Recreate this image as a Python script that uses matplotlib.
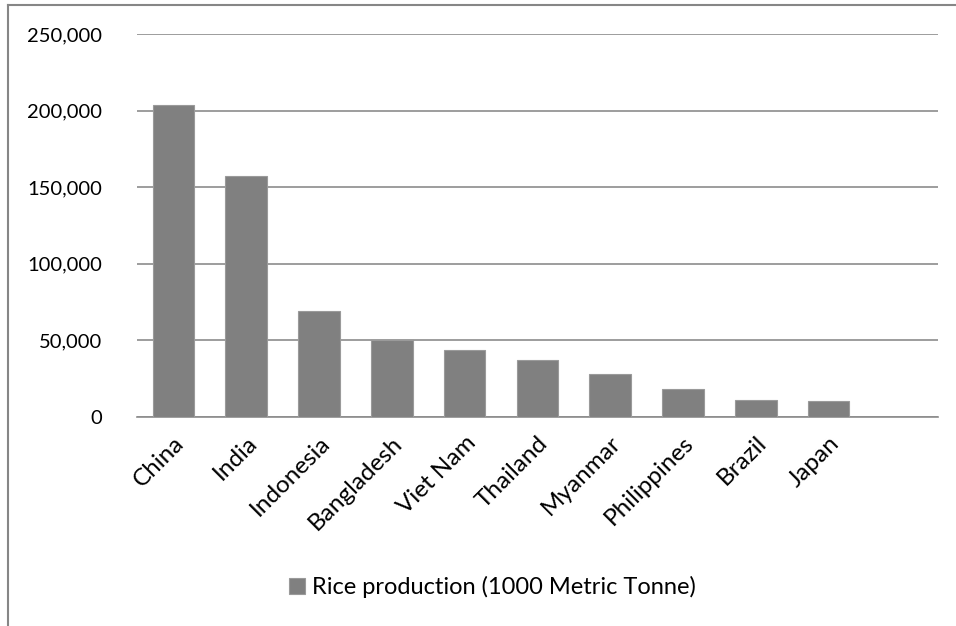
import matplotlib.pyplot as plt
from matplotlib.lines import Line2D
from matplotlib.ticker import FuncFormatter

countries = ["China", "India", "Indonesia", "Bangladesh", "Viet Nam",
             "Thailand", "Myanmar", "Philippines", "Brazil", "Japan", ""]
production = [203600, 157300, 69000, 50300, 43700,
              37300, 28100, 18000, 11200, 10300, None]
series_name = "Rice production (1000 Metric Tonne)"
yticks = [0, 50000, 100000, 150000, 200000, 250000]

plt.rcParams['font.family'] = ['Lato', 'DejaVu Sans']

fig = plt.figure(figsize=(9.56, 6.26), dpi=100)
ax = fig.add_axes([0.1433, 0.3339, 0.8377, 0.6118])

xs = list(range(len(countries)))
vals = [v if v is not None else 0 for v in production]
ax.bar(xs, vals, width=0.57, color="#808080", edgecolor="#9a9a9a",
       linewidth=0.8, zorder=3, label=series_name)

ax.set_xlim(-0.5, len(countries) - 0.5)
ax.set_ylim(0, 250000)
ax.set_yticks(yticks)
ax.yaxis.set_major_formatter(FuncFormatter(lambda v, p: f"{int(v):,}"))
ax.grid(axis="y", color="#8c8c8c", linewidth=1.2, zorder=0)

ax.set_xticks(xs)
ax.set_xticklabels(countries, rotation=45, ha="right", rotation_mode="anchor")
ax.tick_params(axis="x", length=0, pad=11, labelsize=17.5)
ax.tick_params(axis="y", length=0, pad=25, labelsize=14.5)

for side in ["left", "right", "top"]:
    ax.spines[side].set_visible(False)
ax.spines["bottom"].set_color("#8c8c8c")
ax.spines["bottom"].set_linewidth(1.2)

# chart area border (left and top edges)
fig.add_artist(Line2D([8 / 956, 8 / 956], [0, 1 - 5 / 626],
                      transform=fig.transFigure, color="#868686", lw=1.5))
fig.add_artist(Line2D([8 / 956, 1], [1 - 5 / 626, 1 - 5 / 626],
                      transform=fig.transFigure, color="#868686", lw=1.5))

fig.legend(loc="center", bbox_to_anchor=(0.515, 1 - 587 / 626), frameon=False,
           fontsize=17, handlelength=0.7, handleheight=0.7, handletextpad=0.3)

fig.savefig("out.png", dpi=100)
